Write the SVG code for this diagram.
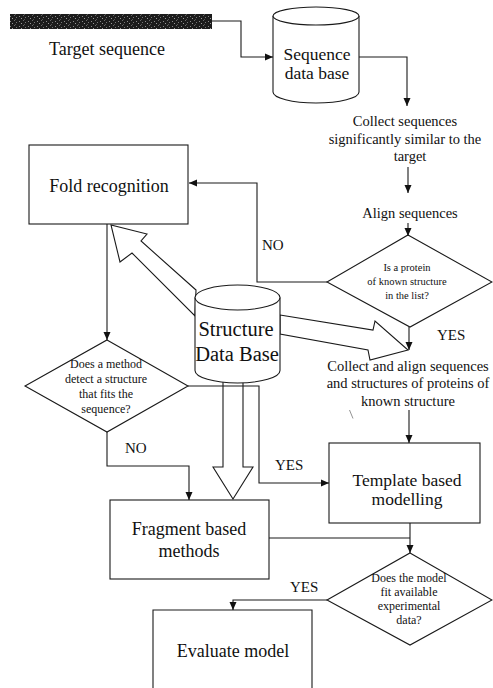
<svg xmlns="http://www.w3.org/2000/svg" width="493" height="688" viewBox="0 0 493 688">
<style>
text{font-family:"Liberation Serif",Tinos,"Times New Roman",Times,"Noto Serif","DejaVu Serif",serif;fill:#111;text-anchor:middle}
.ln{fill:none;stroke:#1a1a1a;stroke-width:1.1}
.shape{fill:#fff;stroke:#1a1a1a;stroke-width:1.1}
.big{font-size:18px}
.tpl{font-size:17.5px}
.seq{font-size:17.5px}
.mid{font-size:14.5px}
.lab{font-size:15px;text-anchor:start}
.sm{font-size:12px}
.xs{font-size:10.5px}
.db{font-size:20.5px}
</style>
<defs>
<marker id="ah" markerUnits="userSpaceOnUse" markerWidth="9" markerHeight="8" refX="8" refY="4" orient="auto">
<path d="M0,0.5 L8,4 L0,7.5 z" fill="#111"/>
</marker>
<pattern id="noise" width="9" height="5" patternUnits="userSpaceOnUse">
<rect width="9" height="5" fill="#1c1c1c"/>
<rect x="1" y="1" width="1" height="1" fill="#8a8a8a"/>
<rect x="5" y="0" width="1" height="1" fill="#6a6a6a"/>
<rect x="3" y="3" width="1" height="1" fill="#9a9a9a"/>
<rect x="7" y="2" width="1" height="1" fill="#777"/>
<rect x="6" y="4" width="1" height="1" fill="#555"/>
</pattern>
</defs>

<g id="target-bar">
<rect x="10" y="14" width="202" height="15" fill="url(#noise)"/>
<text class="big" x="107" y="55">Target sequence</text>
</g>

<g id="sequence-db">
<path class="shape" d="M273,16 L273,92 A43,11 0 0 0 359,92 L359,16"/>
<ellipse class="shape" cx="316" cy="16" rx="43" ry="9"/>
<text class="seq" x="317" y="60">Sequence</text>
<text class="seq" x="317" y="79">data base</text>
</g>

<g id="collect-sequences">
<text class="mid" x="405" y="126">Collect sequences</text>
<text class="mid" x="405" y="144">significantly similar to the</text>
<text class="mid" x="410" y="161">target</text>
</g>

<g id="align-sequences">
<text class="mid" x="410" y="218">Align sequences</text>
</g>

<g id="known-structure-decision">
<polygon class="shape" points="408,235 492,282 410,327 327,282"/>
<text class="xs" x="407" y="271">Is a protein</text>
<text class="xs" x="407" y="285">of known structure</text>
<text class="xs" x="407" y="299">in the list?</text>
</g>

<g id="fold-recognition">
<rect class="shape" x="29" y="145" width="159" height="79"/>
<text class="big" x="109" y="192">Fold recognition</text>
</g>

<g id="hollow-arrows">
<polygon class="shape" points="196,290 141,241 147,234 111,225 120,262 132,253 195,316"/>
<polygon class="shape" points="280,315 373,330 375,321 408,350 370,360 368,350 280,334"/>
<polygon class="shape" points="223,380 223,467 213,467 233,499 253,467 243,467 243,380"/>
</g>

<g id="structure-db">
<path class="shape" d="M195,297.5 L195,370.5 A42.5,12.5 0 0 0 280,370.5 L280,297.5"/>
<ellipse class="shape" cx="237.5" cy="297.5" rx="42.5" ry="12.5"/>
<text class="db" x="236" y="336">Structure</text>
<text class="db" x="237" y="361">Data Base</text>
</g>

<g id="collect-align">
<text class="mid" x="408" y="371">Collect and align sequences</text>
<text class="mid" x="408" y="388">and structures of proteins of</text>
<text class="mid" x="408" y="406">known structure</text>
</g>

<g id="method-decision">
<polygon class="shape" points="107,340 188,386 107,432 25,386"/>
<text class="sm" x="106" y="368">Does a method</text>
<text class="sm" x="106" y="383">detect a structure</text>
<text class="sm" x="106" y="398">that fits the</text>
<text class="sm" x="106" y="413">sequence?</text>
</g>

<g id="template-modelling">
<rect class="shape" x="329" y="443" width="151" height="80"/>
<text class="tpl" x="407" y="486">Template based</text>
<text class="tpl" x="407" y="505">modelling</text>
</g>

<g id="fragment-methods">
<rect class="shape" x="110" y="500" width="159" height="79"/>
<text class="big" x="189" y="535">Fragment based</text>
<text class="big" x="189" y="557">methods</text>
</g>

<g id="model-fit-decision">
<polygon class="shape" points="410,553 492,600 410,645 327,600"/>
<text class="sm" x="409" y="582">Does the model</text>
<text class="sm" x="409" y="596">fit available</text>
<text class="sm" x="409" y="610">experimental</text>
<text class="sm" x="409" y="624">data?</text>
</g>

<g id="evaluate-model">
<path class="shape" d="M153,700 L153,610 L312,610 L312,700"/>
<text class="big" x="233" y="657">Evaluate model</text>
</g>

<g id="connectors">
<polyline class="ln" points="212,21 241,21 241,57 273,57" marker-end="url(#ah)"/>
<polyline class="ln" points="359,57 407,57 407,106" marker-end="url(#ah)"/>
<line class="ln" x1="408" y1="167" x2="408" y2="193" marker-end="url(#ah)"/>
<line class="ln" x1="408" y1="223" x2="408" y2="236" marker-end="url(#ah)"/>
<polyline class="ln" points="327,282 257,282 257,183 189,183" marker-end="url(#ah)"/>
<line class="ln" x1="409" y1="327" x2="409" y2="350" marker-end="url(#ah)"/>
<line class="ln" x1="409" y1="410" x2="409" y2="443" marker-end="url(#ah)"/>
<line class="ln" x1="410" y1="523" x2="410" y2="553" marker-end="url(#ah)"/>
<line class="ln" x1="269" y1="538" x2="410" y2="538"/>
<polyline class="ln" points="327,600 233,600 233,610" marker-end="url(#ah)"/>
<line class="ln" x1="107" y1="224" x2="107" y2="340" marker-end="url(#ah)"/>
<polyline class="ln" points="107,432 107,466 189,466 189,500" marker-end="url(#ah)"/>
<polyline class="ln" points="188,386 259,386 259,483 329,483" marker-end="url(#ah)"/>
<line x1="349.5" y1="410" x2="353" y2="418.5" stroke="#777" stroke-width="0.8"/>
</g>

<g id="labels">
<text class="lab" x="262" y="250">NO</text>
<text class="lab" x="437" y="340">YES</text>
<text class="lab" x="125" y="453">NO</text>
<text class="lab" x="275" y="470">YES</text>
<text class="lab" x="290" y="592">YES</text>
</g>
</svg>
